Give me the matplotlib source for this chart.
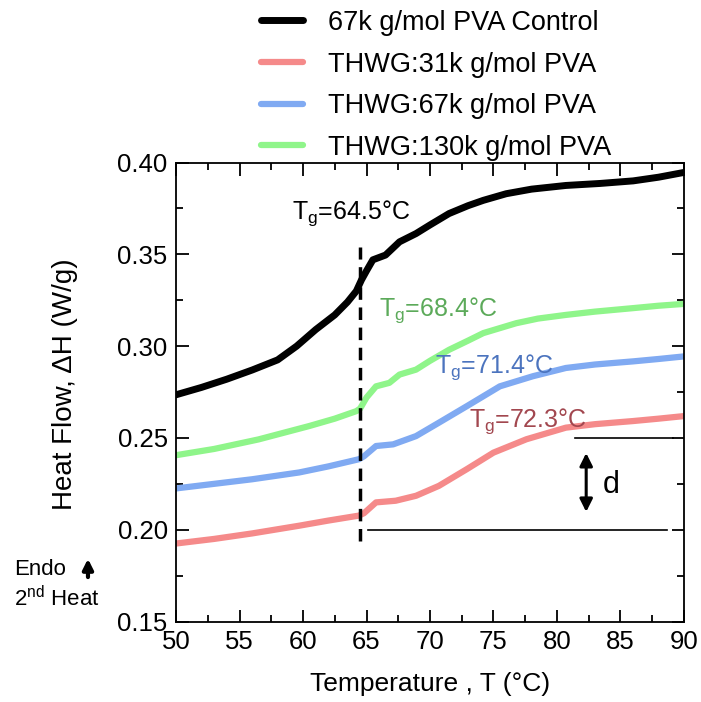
import matplotlib
matplotlib.use('Agg')
import matplotlib.pyplot as plt
from matplotlib.ticker import MultipleLocator

plt.rcParams['font.family'] = ['Liberation Sans', 'DejaVu Sans']
plt.rcParams['mathtext.fontset'] = 'custom'
plt.rcParams['mathtext.rm'] = 'Liberation Sans'
plt.rcParams['mathtext.it'] = 'Liberation Sans'

#%% data (2nd heat)
T_control = [50, 52, 54, 56, 58, 59.5, 61, 62.5, 63.5, 64.2, 64.6, 65.0, 65.5, 66.5, 67.6,
             68.9, 70, 71.5, 73, 74.2, 76, 78, 80.7, 83.4, 86, 88, 90]
H_control = [0.2735, 0.2775, 0.282, 0.287, 0.2925, 0.300, 0.309, 0.317, 0.324, 0.330, 0.336,
             0.341, 0.347, 0.3496, 0.3568, 0.3613, 0.366, 0.3722, 0.3765, 0.3794, 0.383,
             0.3855, 0.3875, 0.3886, 0.390, 0.392, 0.3946]

T_130k = [50, 53, 56.5, 60.5, 62.5, 64.2, 64.5, 65.0, 65.75, 66.8, 67.6, 68.9, 70, 71.5, 73,
          74.2, 76.8, 78.5, 80.7, 83, 86, 88, 90]
H_130k = [0.2406, 0.244, 0.2492, 0.2565, 0.2605, 0.2646, 0.2660, 0.272, 0.2781, 0.2800,
          0.2845, 0.2872, 0.292, 0.298, 0.303, 0.3071, 0.3125, 0.315, 0.317, 0.3188, 0.3207,
          0.322, 0.323]

T_67k = [50, 53, 56, 59.7, 62, 64.4, 64.8, 65.75, 67.1, 68.9, 70.7, 72.9, 75.5, 78.1, 80.7,
         83, 86, 88, 90]
H_67k = [0.2225, 0.2250, 0.2275, 0.2312, 0.2345, 0.2384, 0.240, 0.2456, 0.2465, 0.251, 0.2583,
         0.2673, 0.2781, 0.2836, 0.2881, 0.290, 0.2917, 0.293, 0.2944]

T_31k = [50, 53, 56, 59.7, 62, 64.4, 64.8, 65.75, 67.3, 68.9, 70.7, 72.9, 75, 77.6, 80.7, 83,
         86, 88, 90]
H_31k = [0.1925, 0.1950, 0.1980, 0.2022, 0.2050, 0.2077, 0.209, 0.2149, 0.2158, 0.2185, 0.2239,
         0.233, 0.242, 0.2493, 0.2556, 0.2575, 0.2592, 0.2605, 0.2619]

labels = ['67k g/mol PVA Control', 'THWG:31k g/mol PVA', 'THWG:67k g/mol PVA',
          'THWG:130k g/mol PVA']
colors = ['black', '#F58A8A', '#80AAF2', '#8FF58A']
tg_labels = ['64.5', '72.3', '71.4', '68.4']
tg_text_colors = ['black', '#A2474F', '#4C74BE', '#5CAA5A']

tg_control = 64.5
baseline_low = 0.20
baseline_high = 0.25

#%%
fig = plt.figure(figsize=(7.01, 7.02), dpi=100)
ax = fig.add_axes([0.2511, 0.1146, 0.7246, 0.6539])

lc, = ax.plot(T_control, H_control, color=colors[0], lw=5.0, solid_capstyle='round')
l31, = ax.plot(T_31k, H_31k, color=colors[1], lw=4.5, solid_capstyle='round')
l67, = ax.plot(T_67k, H_67k, color=colors[2], lw=4.5, solid_capstyle='round')
l130, = ax.plot(T_130k, H_130k, color=colors[3], lw=4.5, solid_capstyle='round')

# Tg marker and step-height guide
ax.plot([tg_control, tg_control], [0.194, 0.354], color='black', lw=2.5, ls=(0, (3.6, 2.2)))
ax.plot([65.1, 88.7], [baseline_low, baseline_low], color='black', lw=1.2)
ax.plot([81.4, 89.1], [baseline_high, baseline_high], color='black', lw=1.2)
ax.annotate('', xy=(82.3, 0.2082), xytext=(82.3, 0.2433),
            arrowprops=dict(arrowstyle='<|-|>', color='black', lw=2.2, mutation_scale=19))
ax.text(83.6, 0.2245, 'd', fontsize=22, va='center', ha='left')

tg_pos = [(59.1, 0.3723), (73.1, 0.2590), (70.4, 0.2883), (66.0, 0.3195)]
for (x, y), val, c in zip(tg_pos, tg_labels, tg_text_colors):
    ax.text(x, y, r'$\mathregular{T_g}$=' + val + '°C', color=c, fontsize=18,
            va='center', ha='left')

ax.set_xlim(50, 90)
ax.set_ylim(0.15, 0.40)
ax.xaxis.set_major_locator(MultipleLocator(5))
ax.xaxis.set_minor_locator(MultipleLocator(2.5))
ax.yaxis.set_major_locator(MultipleLocator(0.05))
ax.yaxis.set_minor_locator(MultipleLocator(0.025))
ax.yaxis.set_major_formatter(plt.FormatStrFormatter('%.2f'))
ax.tick_params(which='both', direction='in', top=True, right=True, labelsize=18.5, width=1.3)
ax.tick_params(which='major', length=9, pad=6)
ax.tick_params(which='minor', length=5)
for sp in ax.spines.values():
    sp.set_linewidth(1.3)

ax.set_xlabel('Temperature , T (°C)', fontsize=19, labelpad=13)
ax.set_ylabel('Heat Flow, ΔH (W/g)', fontsize=20)
ax.yaxis.set_label_coords(-0.193, 0.517)

fig.legend([lc, l31, l67, l130], labels, loc='upper left', bbox_to_anchor=(0.372, 0.986),
           frameon=False, fontsize=19.5, handlelength=1.55, handletextpad=0.95,
           labelspacing=0.58, borderpad=0, borderaxespad=0)

fig.text(0.02, 0.189, 'Endo', fontsize=16, va='center', ha='left')
fig.text(0.02, 0.148, r'2$^{\mathregular{nd}}$ Heat', fontsize=16, va='center', ha='left')
fig.add_artist(matplotlib.patches.FancyArrowPatch((0.1255, 0.174), (0.1255, 0.208),
               transform=fig.transFigure, arrowstyle='-|>', mutation_scale=15,
               color='black', lw=3))

fig.savefig('out.png', dpi=100)
